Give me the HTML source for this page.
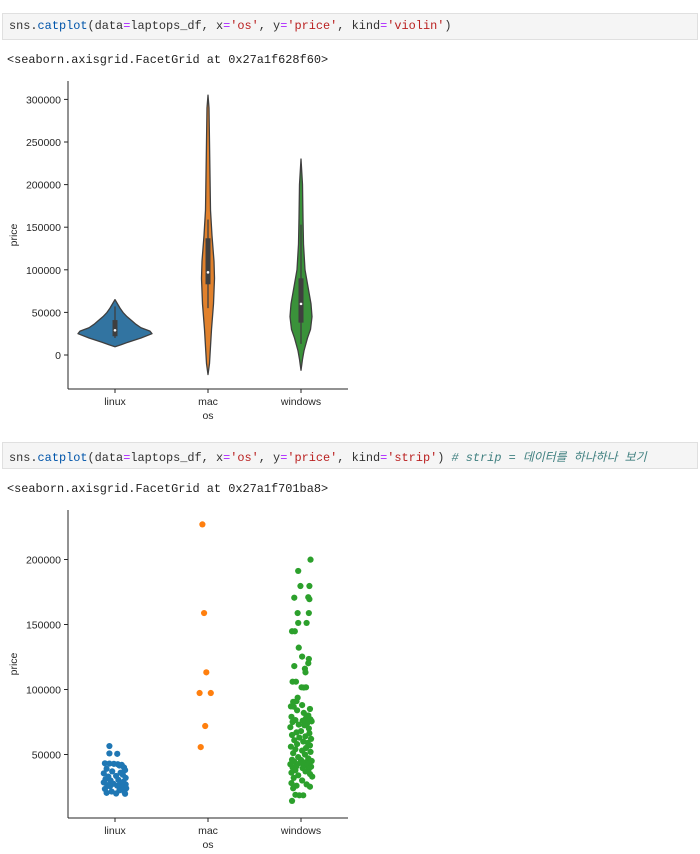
<!DOCTYPE html>
<html><head><meta charset="utf-8"><style>
body{margin:0;width:700px;height:854px;background:#fff;position:relative;overflow:hidden;font-family:"Liberation Sans",sans-serif}
.cell{position:absolute;left:2px;width:696px;height:27px;background:#f5f5f5;border:1px solid #e0e0e0;box-sizing:border-box}
.code{position:absolute;left:6px;top:5px;font-family:"Liberation Mono","Noto Sans CJK KR",monospace;font-size:11.9px;white-space:pre;color:#333}
.out{position:absolute;left:7px;font-family:"Liberation Mono",monospace;font-size:11.9px;white-space:pre;color:#222}
.k{color:#008000}.f{color:#0055aa}.s{color:#ba2121}.o{color:#aa22ff}.c{color:#408080;font-style:italic}
svg{position:absolute;left:0;top:0}
</style></head><body>
<div class="cell" style="top:13px"><div class="code">sns.<span class="f">catplot</span>(data<span class="o">=</span>laptops_df, x<span class="o">=</span><span class="s">'os'</span>, y<span class="o">=</span><span class="s">'price'</span>, kind<span class="o">=</span><span class="s">'violin'</span>)</div></div>
<div class="out" style="top:53px">&lt;seaborn.axisgrid.FacetGrid at 0x27a1f628f60&gt;</div>
<div class="cell" style="top:442px"><div class="code">sns.<span class="f">catplot</span>(data<span class="o">=</span>laptops_df, x<span class="o">=</span><span class="s">'os'</span>, y<span class="o">=</span><span class="s">'price'</span>, kind<span class="o">=</span><span class="s">'strip'</span>) <span class="c"># strip = 데이터를 하나하나 보기</span></div></div>
<div class="out" style="top:482px">&lt;seaborn.axisgrid.FacetGrid at 0x27a1f701ba8&gt;</div>
<svg id="svg" width="700" height="854"></svg>
<script>
const categories=['linux','mac','windows'];
const violinTicks=[0,50000,100000,150000,200000,250000,300000];
const stripTicks=[50000,100000,150000,200000];
// violin density profiles: [value, half-width density]
const linuxProfile=[[9700,0],[12000,6],[15000,13],[20000,26],[25000,37],[28000,35],[32000,26],[36000,21],[40000,17],[45000,12],[50000,8],[55000,5],[60000,2.5],[65000,0]];
const macProfile=[[-23000,0],[-10000,1.5],[0,2],[30000,3.5],[60000,5.5],[90000,6.5],[110000,6],[140000,4],[170000,2.5],[210000,2],[250000,1.5],[290000,1],[305000,0]];
const winProfile=[[-18000,0],[-5000,1.5],[5000,3],[20000,6.5],[30000,9.5],[45000,11],[60000,10],[80000,7],[100000,4],[130000,2.5],[160000,2],[200000,1.5],[230000,0]];
const linuxBox=[20000,22000,29000,41000,57000];
const macBox=[55000,83000,97000,137000,159000];
const winBox=[13000,38000,60000,90000,153000];
// strip values
const linuxValues=[56500,50800,50500,43200,43000,42800,42500,42000,41500,40000,39000,38000,37000,36000,35500,34500,33500,33000,32000,31000,30500,30000,29000,28500,28000,27500,27000,26500,26000,25500,25000,24000,23500,22500,21500,21000,20500,20000,19800];
const linuxJitter=[-0.1,-0.1,0.04,-0.18,-0.1,-0.02,0.05,0.12,0.08,0.16,-0.15,0.18,-0.05,0.1,-0.2,0.14,0.02,-0.12,0.19,-0.17,0.06,-0.08,0.15,-0.2,0.1,-0.03,0.19,-0.14,0.04,-0.09,0.13,0.2,-0.18,0.08,-0.06,0.17,-0.15,0.02,0.18];
const macValues=[227000,158800,113200,97300,97300,71900,55700];
const macJitter=[-0.1,-0.07,-0.03,-0.15,0.05,-0.05,-0.13];
const winValues=[199900,191200,179600,179600,170600,171000,169500,158800,158800,151200,151200,144800,144800,132200,125300,123500,120200,118000,113200,116000,106000,106000,101700,101700,101500,93700,91000,90500,88000,87000,86800,85000,84000,82000,80000,79000,78000,77000,76500,76000,75500,75000,74000,73000,72500,71000,70000,68000,67000,66300,65000,64000,63000,62000,61000,60000,59000,58000,57000,56000,55000,54000,53000,52000,51000,50000,48000,47000,46000,45800,45000,44500,44000,43500,43000,42500,42000,41500,41000,40600,40000,39500,39000,38000,37000,36000,35000,34000,33000,32000,30000,28000,27000,26000,25200,24000,19000,18600,18600,14300];
const winJitter=[0.17,-0.05,-0.01,0.15,-0.12,0.13,0.15,0.14,-0.06,0.1,-0.05,-0.16,-0.11,-0.04,0.02,0.14,0.13,-0.12,0.08,0.07,-0.15,-0.09,0.01,0.09,0.05,-0.06,-0.08,-0.14,0.02,-0.18,-0.13,0.16,-0.07,0.05,0.13,-0.17,0.09,0.17,-0.1,0.03,0.19,-0.15,0.11,-0.04,0.06,-0.19,0.14,0.0,-0.08,0.15,-0.16,0.08,-0.03,0.18,-0.12,0.04,0.12,-0.07,0.16,-0.18,0.09,-0.1,0.02,0.17,-0.14,0.07,-0.05,0.13,-0.16,0.0,0.19,-0.12,0.08,-0.02,0.15,-0.19,0.05,0.11,-0.08,0.18,-0.15,0.03,0.14,-0.1,0.08,-0.17,0.16,-0.05,0.2,-0.13,0.02,-0.17,0.1,-0.08,0.16,-0.14,-0.1,-0.03,0.04,-0.16];
const NS='http://www.w3.org/2000/svg';
const svg=document.getElementById('svg');
function mk(t,a,p){const e=document.createElementNS(NS,t);for(const k in a)e.setAttribute(k,a[k]);(p||svg).appendChild(e);return e;}
function axes(g,top,bottom,yOf,ticks,tag){
  const l=mk('line',{x1:68,y1:top,x2:68,y2:bottom,stroke:'#262626','stroke-width':1},g);
  
  const b=mk('line',{x1:68,y1:bottom,x2:348,y2:bottom,stroke:'#262626','stroke-width':1},g);
  
  ticks.forEach(v=>{const y=yOf(v);mk('line',{x1:64,x2:68,y1:y,y2:y,stroke:'#262626'},g);
    const t=mk('text',{x:61,y:y+4,'text-anchor':'end','font-size':'10.5','fill':'#262626'},g);t.textContent=v;
    });
  categories.forEach((c,i)=>{const x=xOf(i);mk('line',{x1:x,x2:x,y1:bottom,y2:bottom+4,stroke:'#262626'},g);
    const t=mk('text',{x:x,y:bottom+16,'text-anchor':'middle','font-size':'10.5','fill':'#262626'},g);t.textContent=c;
    });
  const xl=mk('text',{x:208,y:bottom+30,'text-anchor':'middle','font-size':'10.5','fill':'#262626'},g);xl.textContent='os';
  
  const my=(top+bottom)/2;
  const yl=mk('text',{x:17,y:my,'text-anchor':'middle','font-size':'10.5','fill':'#262626',transform:`rotate(-90 17 ${my})`},g);yl.textContent='price';
  
}
function xOf(i){return 115+i*93;}
// violin
const vY=v=>355-v/50000*42.6;
const g1=mk('g',{});
const fills=['#3274a1','#e1812c','#3a923a'];
[linuxProfile,macProfile,winProfile].forEach((prof,i)=>{
  const cx=xOf(i);let d='';
  prof.forEach((p,j)=>{d+=(j?'L':'M')+(cx+p[1])+','+vY(p[0]);});
  for(let j=prof.length-1;j>=0;j--)d+='L'+(cx-prof[j][1])+','+vY(prof[j][0]);
  const path=mk('path',{d:d+'Z',fill:fills[i],stroke:'#3f3f3f','stroke-width':1.3,'stroke-linejoin':'round'},g1);
  
  const bx=[linuxBox,macBox,winBox][i];
  const w=mk('line',{x1:cx,x2:cx,y1:vY(bx[0]),y2:vY(bx[4]),stroke:'#3f3f3f','stroke-width':1.3},g1);
  
  const r=mk('rect',{x:cx-2.5,y:vY(bx[3]),width:5,height:vY(bx[1])-vY(bx[3]),fill:'#3f3f3f'},g1);
  
  const m=mk('circle',{cx:cx,cy:vY(bx[2]),r:1.3,fill:'#fff'},g1);
  
});
axes(g1,81,389,vY,violinTicks,'violin');
// strip
const sY=v=>559.5+(200000-v)/50000*65;
const g2=mk('g',{});
const cols=['#1f77b4','#ff7f0e','#2ca02c'];
[[linuxValues,linuxJitter],[macValues,macJitter],[winValues,winJitter]].forEach((s,i)=>{
  s[0].forEach((v,j)=>{const c=mk('circle',{cx:xOf(i)+(s[1][j]||0)*56,cy:sY(v),r:3.1,fill:cols[i]},g2);
    });
});
axes(g2,510,818,sY,stripTicks,'strip');
</script>
</body></html>
